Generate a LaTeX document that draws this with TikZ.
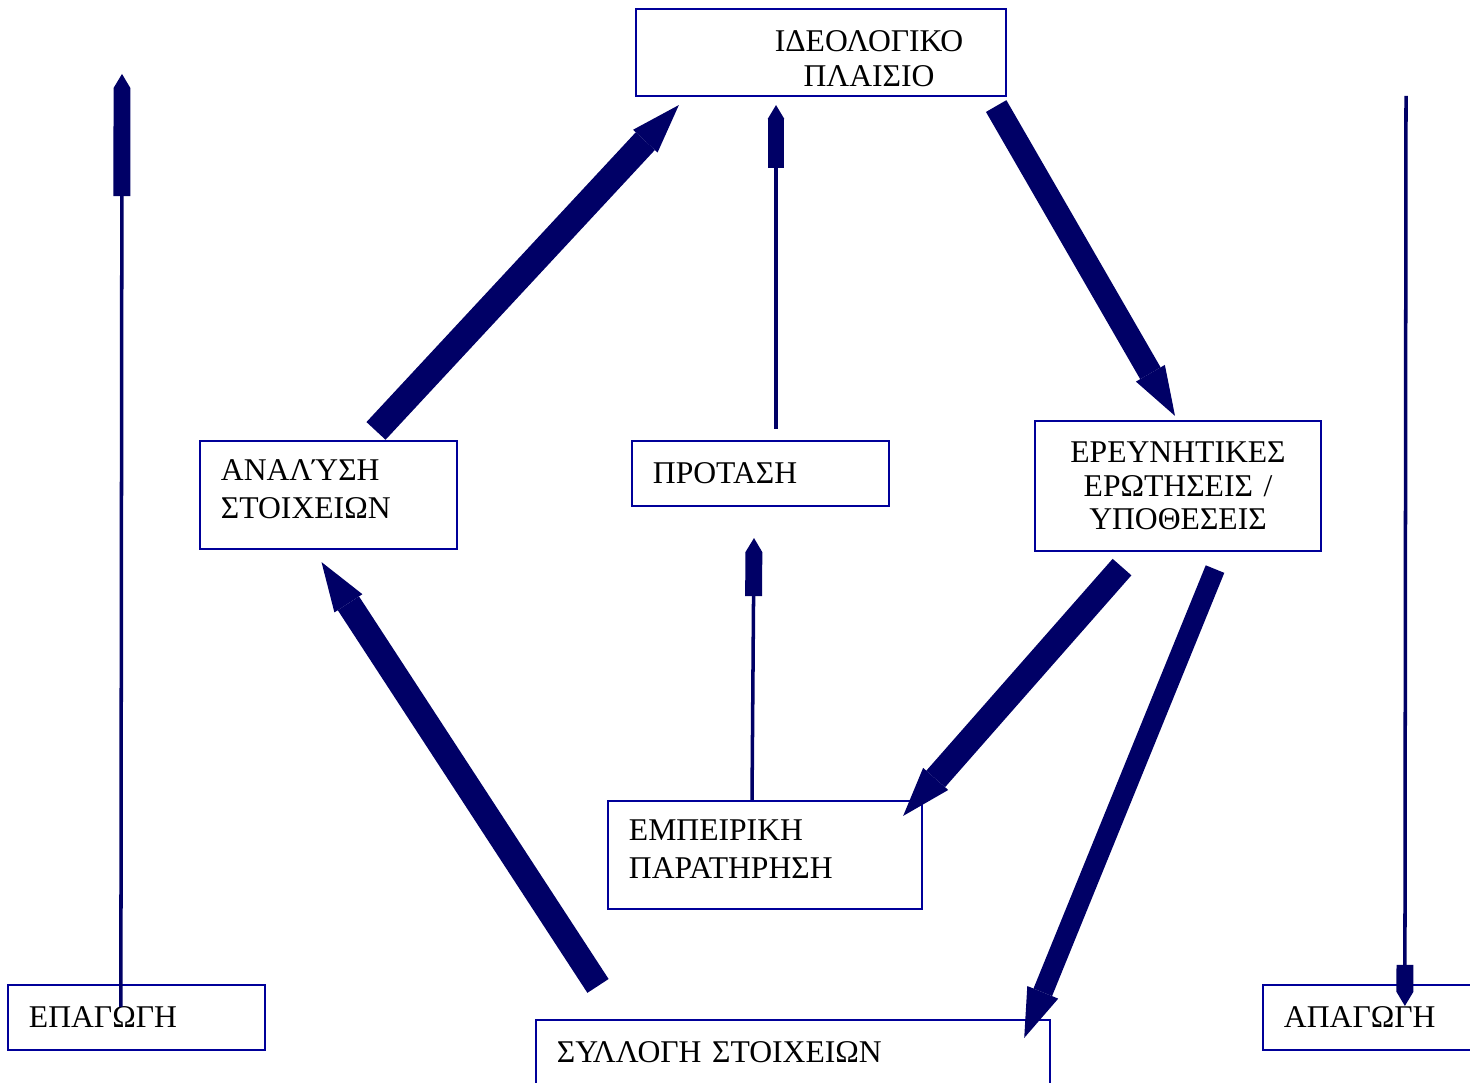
\documentclass[tikz,border=0pt]{standalone}
\usepackage{fontspec}
\setmainfont{Liberation Serif}
\definecolor{wsblue}{RGB}{0,0,153}
\definecolor{wsnavy}{RGB}{0,0,102}
\usetikzlibrary{arrows.meta,calc}

\newcommand{\lowstrut}{\rule[-3.4pt]{0pt}{3.4pt}}

\begin{document}
\begin{tikzpicture}[x=0.01cm,y=-0.01cm,
  stagebox/.style={draw=wsblue,line width=0.6pt,inner ysep=0pt,
    font=\fontsize{9}{10.8}\selectfont},
  leftbox/.style={stagebox,text width=#1,align=left,inner xsep=0.21cm},
  bigarrow/.style={draw=wsnavy,line width=#1,
    -{Triangle[length=14pt,width=9.5pt,line width=0pt]}},
  thinarrow/.style={draw=wsnavy,line width=1pt,
    -{Rectangle[length=#1,width=4.8pt,line width=0pt]Triangle[length=4pt,width=4.8pt,line width=0pt]}}
]
  \useasboundingbox (0,0) rectangle (1470,1083);
  \clip (0,0) rectangle (1470,1083);

  \node[stagebox,text width=3.70cm,inner xsep=0pt,align=center,minimum height=0.87cm,
    font=\fontsize{9}{10.2}\selectfont] (ideo) at (821,52.5)
    {\rule{0pt}{9.5pt}\hspace*{0.96cm}ΙΔΕΟΛΟΓΙΚΟ\\\hspace*{0.96cm}ΠΛΑΙΣΙΟ};
  \node[leftbox=2.15cm,minimum height=1.08cm] (ana) at (328.5,495) {ΑΝΑΛΎΣΗ\\ΣΤΟΙΧΕΙΩΝ\lowstrut};
  \node[leftbox=2.15cm,minimum height=0.65cm] (prot) at (760.5,473.5) {ΠΡΟΤΑΣΗ};
  \node[stagebox,text width=2.86cm,inner xsep=0pt,align=center,minimum height=1.30cm,
    font=\fontsize{9}{9.6}\selectfont] (ereun) at (1178,486)
    {ΕΡΕΥΝΗΤΙΚΕΣ\\ΕΡΩΤΗΣΕΙΣ /\\ΥΠΟΘΕΣΕΙΣ};
  \node[leftbox=2.72cm,minimum height=1.08cm] (empeir) at (765,855) {ΕΜΠΕΙΡΙΚΗ\\ΠΑΡΑΤΗΡΗΣΗ\lowstrut};
  \node[leftbox=2.15cm,minimum height=0.65cm] (epag) at (136.5,1017.5) {ΕΠΑΓΩΓΗ};
  \node[leftbox=4.72cm,minimum height=0.65cm] (syll) at (793,1052.5) {ΣΥΛΛΟΓΗ ΣΤΟΙΧΕΙΩΝ};
  \node[leftbox=2.15cm,minimum height=0.65cm] (apag) at (1391.5,1017.5) {ΑΠΑΓΩΓΗ};

  % the wheel
  \draw[bigarrow=7.4pt] ($(ana.north)+(47.5,-9)$) -- ($(ideo.south west)+(44,8)$);
  \draw[bigarrow=6.7pt] ($(ideo.south east)+(-11,9)$) -- ($(ereun.north)+(-3,-4)$);
  \draw[bigarrow=7.1pt] ($(ereun.south)+(-56,15)$) -- ($(empeir.north east)+(-20,16)$);
  \draw[bigarrow=5.7pt] ($(ereun.south)+(37,17)$) -- ($(syll.north east)+(-27,19)$);
  \draw[bigarrow=7.2pt] ($(syll.north)+(-195,-33)$) -- ($(ana.south)+(-7,12)$);

  % middle line
  \draw[thinarrow=12.5pt] ($(empeir.north)+(-13,0)$) -- ($(prot.south)+(-6.5,31)$);
  \draw[thinarrow=14pt] ($(prot.north)+(15.5,-11)$) -- ($(ideo.south)+(-45,8)$);

  % side lines
  \coordinate (inductop) at (122,74);
  \coordinate (deductop) at (1406,96);
  \draw[thinarrow=30.7pt] ($(epag.north west)+(114,23)$) -- (inductop);
  \draw[thinarrow=7.7pt] (deductop) -- ($(apag.north west)+(143,22)$);
\end{tikzpicture}
\end{document}
